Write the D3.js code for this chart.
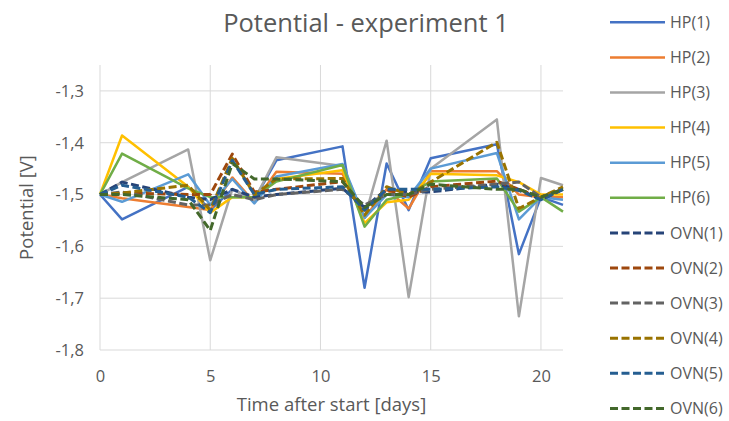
<!DOCTYPE html>
<html>
<head>
<meta charset="utf-8">
<script src="https://cdn.jsdelivr.net/npm/d3@7"></script>
<style>
  body { margin: 0; background: #fff; }
  text { font-family: "Open Sans", sans-serif; fill: #595959; }
</style>
</head>
<body>
<svg id="chart"></svg>
<script>
var days = [0, 1, 4, 5, 6, 7, 8, 11, 12, 13, 14, 15, 18, 19, 20, 21];

var hp1 = [-1.5, -1.548, -1.485, -1.53, -1.49, -1.51, -1.434, -1.407, -1.68, -1.44, -1.53, -1.43, -1.403, -1.615, -1.505, -1.52];
var hp2 = [-1.5, -1.507, -1.524, -1.53, -1.467, -1.515, -1.456, -1.46, -1.545, -1.49, -1.527, -1.455, -1.455, -1.5, -1.505, -1.505];
var hp3 = [-1.5, -1.476, -1.413, -1.627, -1.49, -1.51, -1.428, -1.445, -1.545, -1.396, -1.698, -1.45, -1.355, -1.735, -1.468, -1.482];
var hp4 = [-1.5, -1.386, -1.485, -1.535, -1.505, -1.505, -1.47, -1.453, -1.555, -1.515, -1.51, -1.46, -1.463, -1.476, -1.5, -1.5];
var hp5 = [-1.5, -1.514, -1.461, -1.52, -1.47, -1.517, -1.465, -1.441, -1.545, -1.5, -1.505, -1.45, -1.42, -1.548, -1.505, -1.51];
var hp6 = [-1.5, -1.421, -1.488, -1.505, -1.505, -1.505, -1.475, -1.443, -1.562, -1.51, -1.5, -1.475, -1.469, -1.533, -1.505, -1.533];
var ovn1 = [-1.5, -1.476, -1.505, -1.51, -1.49, -1.505, -1.5, -1.488, -1.525, -1.49, -1.495, -1.495, -1.48, -1.49, -1.51, -1.49];
var ovn2 = [-1.5, -1.497, -1.5, -1.5, -1.422, -1.495, -1.49, -1.475, -1.53, -1.49, -1.505, -1.485, -1.474, -1.49, -1.505, -1.49];
var ovn3 = [-1.5, -1.495, -1.52, -1.52, -1.5, -1.51, -1.5, -1.49, -1.52, -1.5, -1.5, -1.49, -1.48, -1.476, -1.505, -1.49];
var ovn4 = [-1.5, -1.497, -1.482, -1.53, -1.43, -1.5, -1.47, -1.469, -1.54, -1.485, -1.5, -1.476, -1.399, -1.527, -1.505, -1.485];
var ovn5 = [-1.5, -1.482, -1.505, -1.535, -1.434, -1.5, -1.49, -1.485, -1.53, -1.49, -1.49, -1.49, -1.485, -1.492, -1.51, -1.49];
var ovn6 = [-1.5, -1.5, -1.51, -1.569, -1.44, -1.47, -1.47, -1.475, -1.525, -1.5, -1.5, -1.48, -1.49, -1.49, -1.505, -1.49];

var seriesNames = ["HP(1)", "HP(2)", "HP(3)", "HP(4)", "HP(5)", "HP(6)",
                   "OVN(1)", "OVN(2)", "OVN(3)", "OVN(4)", "OVN(5)", "OVN(6)"];
var seriesValues = [hp1, hp2, hp3, hp4, hp5, hp6, ovn1, ovn2, ovn3, ovn4, ovn5, ovn6];
var colors = ["#4472C4", "#ED7D31", "#A5A5A5", "#FFC000", "#5B9BD5", "#70AD47",
              "#264478", "#9E480E", "#636363", "#997300", "#255E91", "#43682B"];

var xTicks = [0, 5, 10, 15, 20];
var yTicks = [-1.8, -1.7, -1.6, -1.5, -1.4, -1.3];

var width = 729;
var height = 421;
var margin = {top: 65, left: 100, right: 166, bottom: 71};

var svg = d3.select("#chart")
    .attr("width", width)
    .attr("height", height);

var x = d3.scaleLinear()
    .domain([0, 21])
    .range([margin.left, width - margin.right]);

var y = d3.scaleLinear()
    .domain([-1.8, -1.25])
    .range([height - margin.bottom, margin.top]);

var fmt = function(d) { return d3.format(".1f")(d).replace(".", ",").replace("−", "-"); };

// gridlines
svg.append("g")
    .selectAll("line")
    .data(yTicks)
    .enter().append("line")
    .attr("x1", x(0)).attr("x2", x(21))
    .attr("y1", function(d) { return y(d); })
    .attr("y2", function(d) { return y(d); })
    .attr("stroke", "#d9d9d9");

svg.append("g")
    .selectAll("line")
    .data(xTicks)
    .enter().append("line")
    .attr("x1", function(d) { return x(d); })
    .attr("x2", function(d) { return x(d); })
    .attr("y1", y(-1.25)).attr("y2", y(-1.8))
    .attr("stroke", "#d9d9d9");

// axes
var yAxis = svg.append("g")
    .attr("transform", `translate(${margin.left},0)`)
    .call(d3.axisLeft(y).tickValues(yTicks).tickFormat(fmt).tickSize(0).tickPadding(16));

var xAxis = svg.append("g")
    .attr("transform", `translate(0,${y(-1.8)})`)
    .call(d3.axisBottom(x).tickValues(xTicks).tickSize(0).tickPadding(20));

svg.selectAll(".domain").remove();
svg.selectAll(".tick text")
    .style("font-family", "'Open Sans', sans-serif")
    .style("font-size", "16.5px")
    .attr("fill", "#595959");

// lines
var line = d3.line()
    .x(function(d, i) { return x(days[i]); })
    .y(function(d) { return y(d); });

svg.append("g")
    .selectAll("path")
    .data(seriesValues)
    .enter().append("path")
    .attr("d", line)
    .attr("fill", "none")
    .attr("stroke", function(d, i) { return colors[i]; })
    .attr("stroke-width", function(d, i) { return i < 6 ? 2.5 : 3; })
    .attr("stroke-dasharray", function(d, i) { return i < 6 ? null : "8,3.5"; })
    .attr("stroke-linejoin", "round");

// title
svg.append("text")
    .attr("x", 366)
    .attr("y", 32)
    .attr("text-anchor", "middle")
    .style("font-size", "25.5px")
    .text("Potential - experiment 1");

svg.append("text")
    .attr("x", (x(0) + x(21)) / 2)
    .attr("y", 411)
    .attr("text-anchor", "middle")
    .style("font-size", "18.5px")
    .text("Time after start [days]");

svg.append("text")
    .attr("transform", `translate(33,${(y(-1.25) + y(-1.8)) / 2}) rotate(-90)`)
    .attr("text-anchor", "middle")
    .style("font-size", "18.5px")
    .text("Potential [V]");

// legend
var legend = svg.append("g")
    .selectAll("g")
    .data(seriesNames)
    .enter().append("g")
    .attr("transform", function(d, i) { return `translate(610,${22.3 + i * 35.1})`; });

legend.append("line")
    .attr("x1", 0).attr("x2", 55)
    .attr("stroke", function(d, i) { return colors[i]; })
    .attr("stroke-width", function(d, i) { return i < 6 ? 2.5 : 3; })
    .attr("stroke-dasharray", function(d, i) { return i < 6 ? null : "8,3.5"; });

legend.append("text")
    .attr("x", 60)
    .attr("dy", "0.35em")
    .style("font-size", "16px")
    .text(function(d) { return d; });
</script>
</body>
</html>
